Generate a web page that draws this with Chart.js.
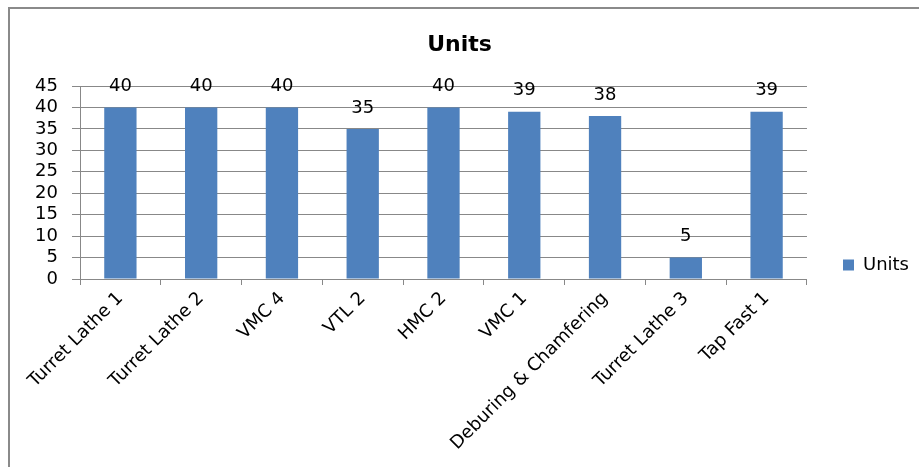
<!DOCTYPE html>
<html lang="en">
<head>
    <meta charset="UTF-8">
    <title>Units</title>
    <script src="https://cdn.jsdelivr.net/npm/chart.js@4.4.1/dist/chart.umd.min.js"></script>
    <style>
        html, body { margin: 0; padding: 0; background: #fff; }
        .frame {
            position: absolute; left: 8px; top: 7px; width: 1000px; height: 600px;
            border-left: 2px solid #8a8a8a; border-top: 2px solid #8a8a8a;
        }
        #chart { position: absolute; left: 0; top: 0; }
    </style>
</head>
<body>
    <div class="frame"></div>
    <canvas id="chart" width="919" height="467"></canvas>

    <script>
        // data
        const machines = ['Turret Lathe 1', 'Turret Lathe 2', 'VMC 4', 'VTL 2', 'HMC 2',
                          'VMC 1', 'Deburing & Chamfering', 'Turret Lathe 3', 'Tap Fast 1'];
        const units = [40, 40, 40, 35, 40, 39, 38, 5, 39];
        const yTicks = [0, 5, 10, 15, 20, 25, 30, 35, 40, 45];

        const FONT = 'DejaVu Sans';
        const GRID = '#888888';

        // value labels above each bar
        const valueLabels = {
            id: 'valueLabels',
            afterDatasetsDraw(chart) {
                const ctx = chart.ctx;
                ctx.save();
                ctx.font = '18px "' + FONT + '"';
                ctx.fillStyle = '#000';
                ctx.textAlign = 'center';
                ctx.textBaseline = 'middle';
                chart.getDatasetMeta(0).data.forEach((bar, i) => {
                    ctx.fillText(String(units[i]), bar.x, bar.y - 21);
                });
                ctx.restore();
            }
        };

        new Chart(document.getElementById('chart'), {
            type: 'bar',
            data: {
                labels: machines,
                datasets: [{
                    label: 'Units',
                    data: units,
                    backgroundColor: '#4F81BD',
                    borderWidth: 0,
                    barPercentage: 0.4,
                    categoryPercentage: 1.0
                }]
            },
            options: {
                responsive: false,
                animation: false,
                layout: { padding: 0 },
                plugins: {
                    title: {
                        display: true,
                        text: 'Units',
                        color: '#000',
                        font: { family: FONT, size: 22, weight: 'bold' },
                        padding: { top: 32, bottom: 27.6 }
                    },
                    legend: {
                        position: 'right',
                        title: { display: true, text: '', padding: { top: 0, bottom: 48.6 } },
                        labels: {
                            boxWidth: 11,
                            boxHeight: 11,
                            padding: 36,
                            color: '#000',
                            font: { family: FONT, size: 18 }
                        }
                    },
                    tooltip: { enabled: false }
                },
                scales: {
                    x: {
                        grid: { display: true, drawOnChartArea: false, drawTicks: true, tickLength: 6, color: GRID, offset: true },
                        border: { display: true, color: GRID },
                        ticks: {
                            color: '#000',
                            font: { family: FONT, size: 18 },
                            minRotation: 45,
                            maxRotation: 45,
                            autoSkip: false,
                            padding: 3
                        },
                        afterFit: scale => { scale.height = 188; }
                    },
                    y: {
                        min: 0,
                        max: 45,
                        afterBuildTicks: scale => { scale.ticks = yTicks.map(v => ({ value: v })); },
                        grid: { color: GRID, tickLength: 8 },
                        border: { display: true, color: GRID },
                        ticks: {
                            color: '#000',
                            font: { family: FONT, size: 18, lineHeight: 1 },
                            autoSkip: false,
                            padding: 14
                        },
                        afterFit: scale => { scale.width = 80; }
                    }
                }
            },
            plugins: [valueLabels]
        });
    </script>
</body>
</html>
